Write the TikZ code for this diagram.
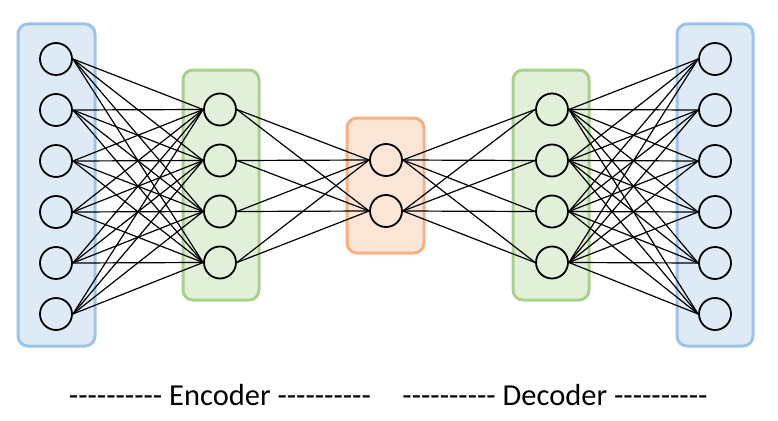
\documentclass[tikz,border=0pt]{standalone}
\usepackage{fontspec}
\setmainfont{Carlito}
\definecolor{bfill}{HTML}{DEEBF7}
\definecolor{bdraw}{HTML}{9DC3E6}
\definecolor{gfill}{HTML}{E2F0D9}
\definecolor{gdraw}{HTML}{A9D18E}
\definecolor{ofill}{HTML}{FBE5D6}
\definecolor{odraw}{HTML}{F4B183}
\newcommand\hy{\hbox{-}}
\newcommand\tendash{\hy\hy\hy\hy\hy\hy\hy\hy\hy\hy}
\tikzset{
  layerbox/.style={rounded corners=10pt, line width=3pt},
  neuron/.style={circle, draw=black, line width=1.8pt, minimum size=32pt, inner sep=0pt},
  conn/.style={line width=1.2pt, black},
  lbl/.style={font=\fontsize{30.5}{36}\selectfont, inner sep=0pt}
}
\begin{document}
\begin{tikzpicture}[x=1pt,y=-1pt]
\useasboundingbox (0,0) rectangle (778,420);
% boxes
\draw[layerbox, fill=bfill, draw=bdraw] (18,24) rectangle (95,346);
\draw[layerbox, fill=gfill, draw=gdraw] (183,70) rectangle (259,300);
\draw[layerbox, fill=ofill, draw=odraw] (347,118) rectangle (424,253);
\draw[layerbox, fill=gfill, draw=gdraw] (513,70) rectangle (589,300);
\draw[layerbox, fill=bfill, draw=bdraw] (677,24) rectangle (753,346);
% neurons
\foreach \i in {1,...,6} {
  \node[neuron] (a\i) at (56, {59+51*(\i-1)}) {};
  \node[neuron] (e\i) at (715, {59+51*(\i-1)}) {};
}
\foreach \i in {1,...,4} {
  \node[neuron] (b\i) at (220, {109.5+51*(\i-1)}) {};
  \node[neuron] (d\i) at (552, {109.5+51*(\i-1)}) {};
}
\foreach \i in {1,2} {
  \node[neuron] (c\i) at (386, {160+51*(\i-1)}) {};
}
% connections
\foreach \i in {1,...,6} \foreach \j in {1,...,4} {
  \draw[conn] (a\i.east) -- (b\j.west);
  \draw[conn] (d\j.east) -- (e\i.west);
}
\foreach \i in {1,...,4} \foreach \j in {1,2} {
  \draw[conn] (b\i.east) -- (c\j.west);
  \draw[conn] (c\j.east) -- (d\i.west);
}
% labels
\node[lbl] (enc) at (220,395) {\tendash{} Encoder \tendash};
\node[lbl] (dec) at (555,395) {\tendash{} Decoder \tendash};
\end{tikzpicture}
\end{document}
